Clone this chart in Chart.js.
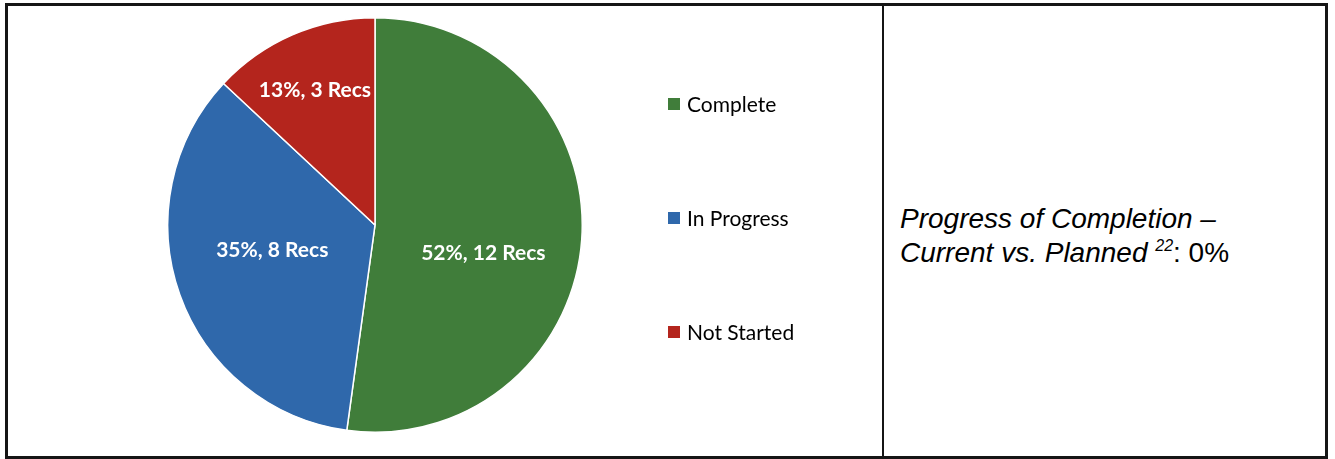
<!DOCTYPE html>
<html>
<head>
<meta charset="utf-8">
<script src="https://cdn.jsdelivr.net/npm/chart.js@4"></script>
<style>
  html, body { margin: 0; padding: 0; background: #fff; }
  .frame {
    position: absolute; left: 5px; top: 3px; width: 1323px; height: 456px;
    box-sizing: border-box; border: 3px solid #151515; display: flex;
  }
  .left { position: relative; width: 874px; height: 100%; border-right: 2px solid #151515; flex: none; }
  .right {
    flex: 1; display: flex; align-items: center; padding: 10px 0 0 16px;
    font-family: "Liberation Sans", Arial, sans-serif; font-size: 28px; line-height: 34px; color: #000;
  }
  .right i { font-style: italic; }
  .right sup { font-size: 16px; font-style: italic; vertical-align: 11px; line-height: 0; }
</style>
</head>
<body>
<div class="frame">
  <div class="left"><canvas id="pie" width="874" height="450"></canvas></div>
  <div class="right"><div><i>Progress of Completion –<br>Current vs. Planned </i><sup>22</sup>: 0%</div></div>
</div>
<script>
const statusLabels = ['Complete', 'In Progress', 'Not Started'];
const recCounts = [12, 8, 3];
const pctLabels = ['52%', '35%', '13%'];
const sliceColors = ['#407D3A', '#2F68AB', '#B4251D'];

// white "xx%, n Recs" text inside each slice (best-fit style placement)
const sliceText = {
  id: 'sliceText',
  afterDatasetsDraw(chart, args, opts) {
    const ctx = chart.ctx;
    const arcs = chart.getDatasetMeta(0).data;
    ctx.save();
    ctx.font = 'bold 21px Lato, "Open Sans", sans-serif';
    ctx.fillStyle = '#fff';
    ctx.textAlign = 'center';
    ctx.textBaseline = 'middle';
    arcs.forEach((arc, i) => {
      const p = arc.getProps(['x', 'y', 'startAngle', 'endAngle', 'outerRadius'], true);
      const mid = (p.startAngle + p.endAngle) / 2 + opts.shift[i] * Math.PI / 180;
      const r = p.outerRadius * opts.radius[i];
      ctx.fillText(pctLabels[i] + ', ' + recCounts[i] + ' Recs', p.x + Math.cos(mid) * r, p.y + Math.sin(mid) * r);
    });
    ctx.restore();
  }
};

// widely spaced legend to the right of the pie
const sideLegend = {
  id: 'sideLegend',
  afterDraw(chart, args, opts) {
    const ctx = chart.ctx;
    const items = chart.options.plugins.legend.labels.generateLabels(chart);
    ctx.save();
    ctx.font = '21px Lato, "Open Sans", sans-serif';
    ctx.textBaseline = 'middle';
    items.forEach((it, i) => {
      const y = opts.y + i * opts.gap;
      ctx.fillStyle = it.fillStyle;
      ctx.fillRect(opts.x, y - 6, 12, 12);
      ctx.fillStyle = '#000';
      ctx.fillText(it.text, opts.x + 19, y + 1);
    });
    ctx.restore();
  }
};

new Chart(document.getElementById('pie'), {
  type: 'pie',
  data: {
    labels: statusLabels,
    datasets: [{
      data: recCounts,
      backgroundColor: sliceColors,
      borderColor: '#fff',
      borderWidth: 1.5
    }]
  },
  options: {
    responsive: false,
    animation: false,
    layout: { padding: { left: 159, right: 299, top: 11, bottom: 23 } },
    plugins: {
      legend: { display: false },
      tooltip: { enabled: false },
      sliceText: { radius: [0.54, 0.51, 0.71], shift: [10.6, 6, -0.6] },
      sideLegend: { x: 660, y: 98, gap: 114 }
    }
  },
  plugins: [sliceText, sideLegend]
});
</script>
</body>
</html>
